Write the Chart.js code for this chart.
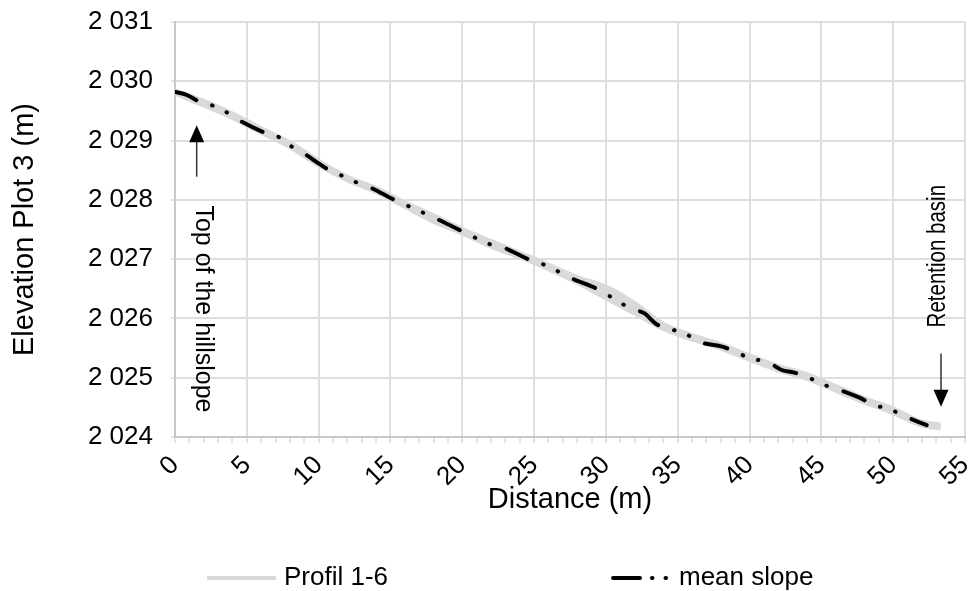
<!DOCTYPE html>
<html>
<head>
<meta charset="utf-8">
<script src="https://cdn.jsdelivr.net/npm/chart.js@4.4.1/dist/chart.umd.min.js"></script>
<style>
  html, body { margin: 0; padding: 0; background: #fff; }
  #wrap { width: 971px; height: 591px; position: relative; }
</style>
</head>
<body>
<div id="wrap"><canvas id="profile"></canvas></div>
<script>
// mean slope of plot 3 (distance in m, elevation in m)
const meanDist = [0, 0.81, 1.74, 2.74, 3.71, 4.64, 6.38, 7.31, 8.17, 9.05, 10.03, 10.67, 11.6, 12.58, 13.58,
  15.27, 16.2, 17.22, 18.22, 19.91, 20.82, 21.81, 22.74, 23.55, 24.49, 25.46, 26.46, 27.38, 29.12, 30.05,
  30.93, 32.14, 32.72, 33.47, 34.46, 35.5, 36.43, 38.17, 39.22, 40.19, 41.3, 42.24, 43.05, 43.98, 44.95,
  45.95, 47.69, 48.61, 49.66, 50.7, 52.33];
const meanElev = [2029.82, 2029.77, 2029.65, 2029.58, 2029.46, 2029.32, 2029.12, 2029.05, 2028.89, 2028.77, 2028.61, 2028.51, 2028.41, 2028.30, 2028.21,
  2028.00, 2027.90, 2027.79, 2027.68, 2027.48, 2027.37, 2027.26, 2027.21, 2027.12, 2027.01, 2026.93, 2026.82, 2026.70, 2026.53, 2026.41,
  2026.27, 2026.14, 2026.08, 2025.91, 2025.82, 2025.75, 2025.61, 2025.52, 2025.41, 2025.32, 2025.26, 2025.13, 2025.09, 2025.02, 2024.90,
  2024.82, 2024.66, 2024.54, 2024.48, 2024.36, 2024.20];

// single profiles 1-6, surveyed every 2 m
const profileDist = [0, 2, 4, 6, 8, 10, 12, 14, 16, 18, 20, 22, 24, 26, 28, 30, 32, 34, 36, 38, 40, 42, 44, 46, 48, 50, 52, 53.3];
const profil1 = [2029.84, 2029.66, 2029.45, 2029.20, 2028.96, 2028.65, 2028.38, 2028.19, 2027.95, 2027.73, 2027.50, 2027.30, 2027.10, 2026.90,
  2026.69, 2026.53, 2026.25, 2025.90, 2025.71, 2025.56, 2025.37, 2025.19, 2025.05, 2024.85, 2024.65, 2024.47, 2024.25, 2024.20];
const profil2 = [2029.80, 2029.60, 2029.39, 2029.14, 2028.90, 2028.59, 2028.34, 2028.14, 2027.89, 2027.64, 2027.44, 2027.22, 2027.04, 2026.84,
  2026.61, 2026.35, 2026.09, 2025.83, 2025.65, 2025.50, 2025.31, 2025.13, 2024.99, 2024.79, 2024.59, 2024.41, 2024.20, 2024.15];
const profil3 = [2029.83, 2029.64, 2029.43, 2029.18, 2028.93, 2028.62, 2028.34, 2028.16, 2027.91, 2027.68, 2027.47, 2027.26, 2027.07, 2026.87,
  2026.66, 2026.46, 2026.19, 2025.87, 2025.69, 2025.54, 2025.35, 2025.17, 2025.03, 2024.83, 2024.63, 2024.45, 2024.24, 2024.19];
const profil4 = [2029.81, 2029.62, 2029.41, 2029.16, 2028.92, 2028.61, 2028.36, 2028.17, 2027.92, 2027.69, 2027.46, 2027.24, 2027.06, 2026.86,
  2026.64, 2026.40, 2026.13, 2025.85, 2025.67, 2025.52, 2025.33, 2025.15, 2025.01, 2024.81, 2024.61, 2024.43, 2024.22, 2024.17];
const profil5 = [2029.82, 2029.63, 2029.42, 2029.17, 2028.94, 2028.63, 2028.36, 2028.16, 2027.93, 2027.71, 2027.48, 2027.27, 2027.08, 2026.88,
  2026.67, 2026.49, 2026.21, 2025.88, 2025.68, 2025.53, 2025.34, 2025.16, 2025.02, 2024.82, 2024.62, 2024.44, 2024.23, 2024.18];
const profil6 = [2029.82, 2029.62, 2029.42, 2029.17, 2028.92, 2028.62, 2028.35, 2028.17, 2027.91, 2027.66, 2027.46, 2027.25, 2027.06, 2026.86,
  2026.63, 2026.38, 2026.12, 2025.86, 2025.68, 2025.53, 2025.34, 2025.16, 2025.02, 2024.82, 2024.62, 2024.44, 2024.23, 2024.18];
const profiles = [profil1, profil2, profil3, profil4, profil5, profil6];

const xMin = 0, xMax = 55, xLabelStep = 5;
const yMin = 2024, yMax = 2031;

const gridColor = "#dedede";
const axisColor = "#c8c8c8";
const profileColor = "#d9d9d9";
const meanDash = [23, 16.75, 0.5, 15.5, 0.5, 17.5];
const fontFamily = "'Liberation Sans', Arial, sans-serif";

const toPoints = (xs, ys) => xs.map((x, i) => ({ x, y: ys[i] }));

// arrows and rotated notes at both ends of the hillslope
const notes = [
  { text: "Top of the hillslope", x: 1.95, y: 2026.16, angle: Math.PI / 2, size: 25, stretch: 1 },
  { text: "Retention basin", x: 53.1, y: 2027.05, angle: -Math.PI / 2, size: 25, stretch: 0.82 },
];
const arrows = [
  { x: 1.51, from: 2028.39, to: 2029.26 },
  { x: 53.33, from: 2025.41, to: 2024.51 },
];

const notesPlugin = {
  id: "notes",
  afterDatasetsDraw(chart) {
    const { ctx, scales: { x, y } } = chart;
    ctx.save();
    arrows.forEach((a) => {
      const px = x.getPixelForValue(a.x);
      const y0 = y.getPixelForValue(a.from);
      const y1 = y.getPixelForValue(a.to);
      const dir = y1 < y0 ? 1 : -1;
      ctx.strokeStyle = "#333";
      ctx.lineWidth = 1.5;
      ctx.beginPath();
      ctx.moveTo(px, y0);
      ctx.lineTo(px, y1 + dir * 14);
      ctx.stroke();
      ctx.fillStyle = "#000";
      ctx.beginPath();
      ctx.moveTo(px, y1);
      ctx.lineTo(px - 7.5, y1 + dir * 17);
      ctx.lineTo(px + 7.5, y1 + dir * 17);
      ctx.closePath();
      ctx.fill();
    });
    notes.forEach((n) => {
      ctx.save();
      ctx.translate(x.getPixelForValue(n.x), y.getPixelForValue(n.y));
      ctx.rotate(n.angle);
      ctx.scale(n.stretch, 1);
      ctx.font = `${n.size}px ${fontFamily}`;
      ctx.fillStyle = "#000";
      ctx.textAlign = "center";
      ctx.textBaseline = "middle";
      ctx.fillText(n.text, 0, 0);
      ctx.restore();
    });
    ctx.restore();
  },
};

// legend with long line samples, spread across the bottom
const legendItems = [
  { label: "Profil 1-6", color: profileColor, width: 4, dash: [], left: 207, len: 69 },
  { label: "mean slope", color: "#000", width: 4, dash: [27, 12, 0.5, 13, 0.5, 13], left: 613, len: 58 },
];

const legendPlugin = {
  id: "lineLegend",
  afterDraw(chart) {
    const { ctx } = chart;
    const cy = 578;
    ctx.save();
    ctx.font = `26px ${fontFamily}`;
    ctx.textBaseline = "middle";
    legendItems.forEach((item) => {
      ctx.strokeStyle = item.color;
      ctx.lineWidth = item.width;
      ctx.lineCap = item.dash.length ? "round" : "butt";
      ctx.setLineDash(item.dash);
      ctx.beginPath();
      ctx.moveTo(item.left, cy);
      ctx.lineTo(item.left + item.len, cy);
      ctx.stroke();
      ctx.setLineDash([]);
      ctx.fillStyle = "#000";
      ctx.fillText(item.label, item.left + item.len + 8, cy);
    });
    ctx.restore();
  },
};

const datasets = [
  {
    label: "mean slope",
    data: toPoints(meanDist, meanElev),
    borderColor: "#000",
    borderWidth: 4,
    borderDash: meanDash,
    borderCapStyle: "round",
    pointRadius: 0,
    cubicInterpolationMode: "monotone",
    fill: false,
  },
  ...profiles.map((p, i) => ({
    label: `Profil ${i + 1}`,
    data: toPoints(profileDist, p),
    borderColor: profileColor,
    borderWidth: 5,
    pointRadius: 0,
    cubicInterpolationMode: "monotone",
    fill: false,
  })),
];

new Chart(document.getElementById("profile").getContext("2d"), {
  type: "line",
  data: { datasets },
  options: {
    animation: false,
    responsive: true,
    maintainAspectRatio: false,
    layout: { padding: { left: 0, right: 6, top: 22, bottom: 70 } },
    scales: {
      x: {
        type: "linear",
        min: xMin,
        max: xMax,
        afterFit: (scale) => {
          scale.height = 84;
          scale.paddingLeft = 0;
          scale.paddingRight = 0;
        },
        ticks: {
          stepSize: 1,
          maxTicksLimit: 100,
          autoSkip: false,
          minRotation: 45,
          maxRotation: 45,
          padding: 7,
          color: "#000",
          font: { family: fontFamily, size: 26 },
          callback: (v) => (v % xLabelStep === 0 ? String(v) : ""),
        },
        grid: {
          color: (c) => (c.tick && c.tick.value % xLabelStep === 0 ? gridColor : "rgba(0,0,0,0)"),
          lineWidth: 2,
          tickColor: axisColor,
          tickLength: 6,
          tickWidth: 1,
        },
        border: { color: axisColor, width: 2 },
        title: {
          display: true,
          text: "Distance (m)",
          color: "#000",
          font: { family: fontFamily, size: 29 },
          padding: { top: 4, bottom: 4 },
        },
      },
      y: {
        min: yMin,
        max: yMax,
        afterFit: (scale) => {
          scale.width = 175;
          scale.paddingTop = 0;
          scale.paddingBottom = 0;
        },
        ticks: {
          stepSize: 1,
          padding: 18,
          color: "#000",
          font: { family: fontFamily, size: 26 },
          callback: (v) => {
            const s = String(v);
            return s.slice(0, 1) + " " + s.slice(1);
          },
        },
        grid: {
          color: gridColor,
          lineWidth: 2,
          tickColor: axisColor,
          tickLength: 4,
          tickWidth: 1,
        },
        border: { color: axisColor, width: 2 },
        title: {
          display: true,
          text: "Elevation Plot 3 (m)",
          color: "#000",
          font: { family: fontFamily, size: 29 },
          padding: { top: 8, bottom: 4 },
        },
      },
    },
    plugins: {
      legend: { display: false },
      tooltip: { enabled: false },
    },
  },
  plugins: [notesPlugin, legendPlugin],
});
</script>
</body>
</html>
